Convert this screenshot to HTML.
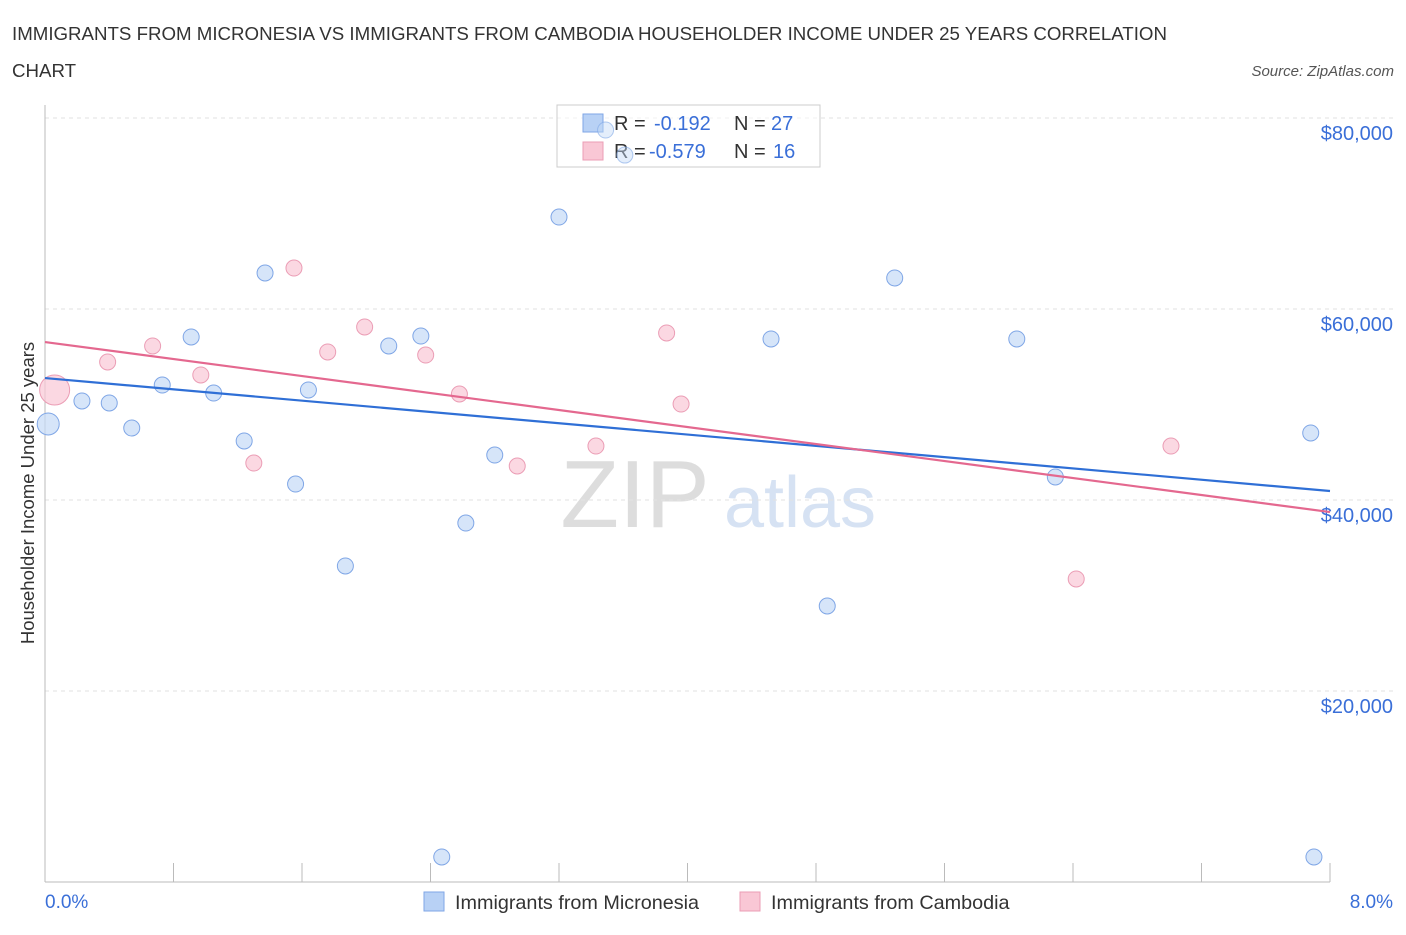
<!DOCTYPE html>
<html><head><meta charset="utf-8">
<style>
body{margin:0;background:#fff;font-family:"Liberation Sans",sans-serif;}
svg text{font-family:"Liberation Sans",sans-serif;}
</style></head>
<body>
<svg width="1406" height="930" xmlns="http://www.w3.org/2000/svg">
<text x="12" y="40" font-size="18.7" fill="#333">IMMIGRANTS FROM MICRONESIA VS IMMIGRANTS FROM CAMBODIA HOUSEHOLDER INCOME UNDER 25 YEARS CORRELATION</text>
<text x="12" y="77" font-size="18.7" fill="#333">CHART</text>
<text x="1394" y="76" font-size="15" fill="#555" font-style="italic" text-anchor="end">Source: ZipAtlas.com</text>
<text x="635" y="527" font-size="96" fill="#ddd" text-anchor="middle" font-family="Liberation Serif">ZIP</text>
<text x="800" y="527" font-size="72" fill="#d6e2f3" text-anchor="middle">atlas</text>
<g id="grid"></g>
<g id="marks"></g>
<text transform="translate(34,493) rotate(-90)" font-size="18.5" fill="#333" text-anchor="middle">Householder Income Under 25 years</text>
<text x="45" y="908" font-size="19" fill="#3a6fd8">0.0%</text>
<text x="1393" y="908" font-size="19" fill="#3a6fd8" text-anchor="end">8.0%</text>
<g>
<rect x="557" y="105" width="263" height="62" fill="#fff" fill-opacity="0.55" stroke="#ccc"/>
<rect x="583" y="114" width="20" height="18" fill="#b8d1f5" stroke="#7fa6e6"/>
<text x="614" y="130" font-size="20" fill="#333">R =</text>
<text x="654" y="130" font-size="20" fill="#3a6fd8">-0.192</text>
<text x="734" y="130" font-size="20" fill="#333">N =</text>
<text x="771" y="130" font-size="20" fill="#3a6fd8">27</text>
<rect x="583" y="142" width="20" height="18" fill="#f9c7d5" stroke="#eb9db5"/>
<text x="614" y="158" font-size="20" fill="#333">R =</text>
<text x="649" y="158" font-size="20" fill="#3a6fd8">-0.579</text>
<text x="734" y="158" font-size="20" fill="#333">N =</text>
<text x="773" y="158" font-size="20" fill="#3a6fd8">16</text>
</g>
<g id="overmarks"></g>
<g>
<rect x="424" y="892" width="20" height="19" fill="#b8d1f5" stroke="#7fa6e6"/>
<text x="455" y="909" font-size="19.8" fill="#333">Immigrants from Micronesia</text>
<rect x="740" y="892" width="20" height="19" fill="#f9c7d5" stroke="#eb9db5"/>
<text x="771" y="909" font-size="19.8" fill="#333">Immigrants from Cambodia</text>
</g>
</svg>
<script>
const yTicks=[20000,40000,60000,80000];
const yTickLabels=["$20,000","$40,000","$60,000","$80,000"];
const blueX=[0.02,0.23,0.40,0.54,0.73,0.91,1.05,1.24,1.37,1.56,1.64,1.87,2.14,2.34,2.47,2.62,2.80,3.20,3.49,3.61,4.52,4.87,5.29,6.05,6.29,7.88,7.90];
const blueY=[47960,50370,50160,47540,52040,57070,51200,46180,63770,41670,51520,33090,56130,57170,2620,37590,44710,69630,78740,76120,56860,28900,63250,56860,42410,47020,2620];
const pinkX=[0.06,0.39,0.67,0.97,1.30,1.55,1.76,1.99,2.37,2.58,2.94,3.43,3.87,3.96,6.42,7.01];
const pinkY=[51520,54450,56130,53090,43870,64290,55500,58120,55180,51100,43560,45650,57490,50050,31730,45650];
const blueTrend=[52770,40940];
const pinkTrend=[56540,38740];
const NS="http://www.w3.org/2000/svg";
const sx=v=>45+v/8*1285;
const sy=v=>882-v/20000*191;
function mk(tag,attrs,parent){const e=document.createElementNS(NS,tag);for(const k in attrs)e.setAttribute(k,attrs[k]);parent.appendChild(e);return e;}
const grid=document.getElementById('grid');
const marks=document.getElementById('marks');
const over=document.getElementById('overmarks');
yTicks.forEach((t,i)=>{
 const l=mk('line',{x1:45,x2:1394,y1:sy(t),y2:sy(t),stroke:'#e2e2e2','stroke-dasharray':'4,4'},grid);
 
 
 const tx=mk('text',{x:1393,y:sy(t)+22,'font-size':20,fill:'#3a6fd8','text-anchor':'end'},grid);
 tx.textContent=yTickLabels[i];
 
 
});
const ax=mk('line',{x1:45,x2:45,y1:105,y2:882,stroke:'#bbb'},grid);


const bx=mk('line',{x1:45,x2:1330,y1:882,y2:882,stroke:'#bbb'},grid);


for(let i=0;i<=10;i++){
 const t=mk('line',{x1:sx(i*0.8),x2:sx(i*0.8),y1:863,y2:882,stroke:'#bbb'},grid);
 
 
}
function pts(X,Y,fill,stroke,name,bigIdx){
 X.forEach((x,i)=>{
  const cy=sy(Y[i]);
  const parent=(cy<170&&sx(x)>550&&sx(x)<825)?over:marks;
  const c=mk('circle',{cx:sx(x),cy:cy,r:i===bigIdx?(name==='pink-point'?15:11):8,fill:fill,'fill-opacity':parent===over?0.45:0.7,stroke:stroke,'stroke-opacity':parent===over?0.6:1,'stroke-width':1},parent);
  
  
 });
}
pts(pinkX,pinkY,'#f9c7d5','#eb9db5','pink-point',0);
pts(blueX,blueY,'#c4daf7','#7fa6e6','blue-point',0);
const bl=mk('line',{x1:sx(0),y1:sy(blueTrend[0]),x2:sx(8),y2:sy(blueTrend[1]),stroke:'#2f6fd6','stroke-width':2.2},marks);


const pl=mk('line',{x1:sx(0),y1:sy(pinkTrend[0]),x2:sx(8),y2:sy(pinkTrend[1]),stroke:'#e4688f','stroke-width':2.2},marks);


</script>
</body></html>
